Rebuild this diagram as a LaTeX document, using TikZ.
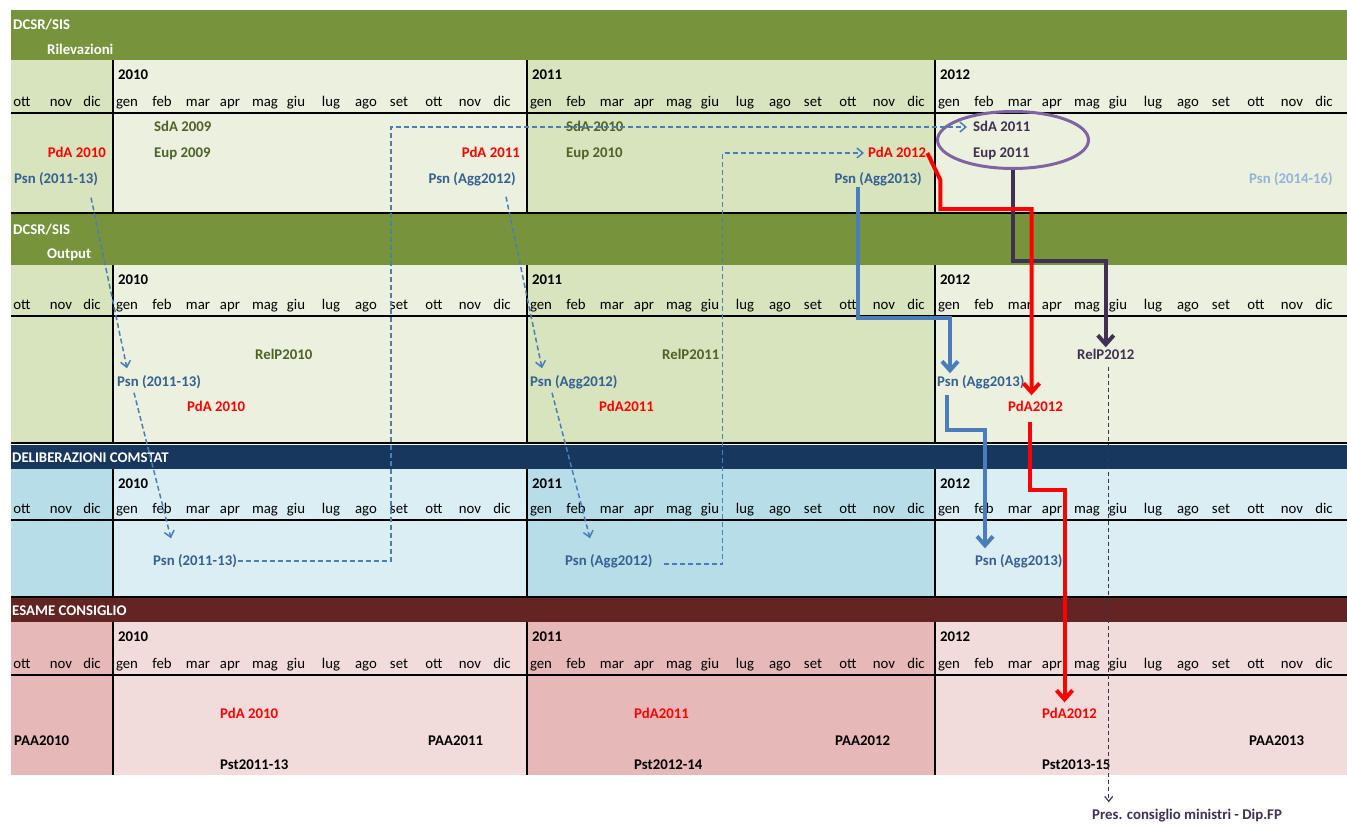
\documentclass[tikz,border=0pt]{standalone}
\usepackage{fontspec}
\setmainfont{Carlito}
\usetikzlibrary{arrows.meta,shapes.geometric}

\definecolor{hdgreen}{HTML}{77933C}
\definecolor{ltgreen}{HTML}{EBF1DE}
\definecolor{dkgreen}{HTML}{D7E4BD}
\definecolor{hdblue}{HTML}{17375E}
\definecolor{ltblue}{HTML}{DBEEF4}
\definecolor{dkblue}{HTML}{B7DEE8}
\definecolor{hdred}{HTML}{632523}
\definecolor{ltred}{HTML}{F2DCDB}
\definecolor{dkred}{HTML}{E6B9B8}
\definecolor{darkolive}{HTML}{4F6228}
\definecolor{psnblue}{HTML}{376092}
\definecolor{arrblue}{HTML}{4A7EBB}
\definecolor{paleblue}{HTML}{95B3D7}
\definecolor{plum}{HTML}{403152}
\definecolor{lilac}{HTML}{8064A2}

\begin{document}
\begin{tikzpicture}[x=1pt,y=-1pt,
  lbl/.style={font=\bfseries\fontsize{14.8}{17}\selectfont, inner sep=1pt, text height=11pt, text depth=2pt},
  month/.style={font=\fontsize{14.8}{17}\selectfont, inner sep=1pt, text height=11pt, text depth=2pt},
  head/.style={lbl, white, anchor=west},
  rule/.style={line width=2.5pt},
  vrule/.style={line width=1.8pt},
  oval/.style={ellipse, draw=lilac, line width=3pt, minimum width=151pt, minimum height=57pt, inner sep=0pt},
  dasharrow/.style={arrblue, line width=1.5pt, dash pattern=on 5pt off 3pt, -{Straight Barb[length=6pt,width=10pt]}},
  plumdash/.style={plum, line width=1.2pt, dash pattern=on 4pt off 3pt, -{Straight Barb[length=5pt,width=8pt]}},
  thickarrow/.style={line width=4pt, -{Straight Barb[length=9pt,width=16pt]}}]

\useasboundingbox (0,0) rectangle (1347,825);

\foreach \s/\ytop/\yhead/\yline/\yend/\hc/\lc/\dc in {
    r/10/60/113/213/hdgreen/ltgreen/dkgreen,
    o/214/265/316/443/hdgreen/ltgreen/dkgreen,
    d/445/469/520/597/hdblue/ltblue/dkblue,
    e/598/622/675/775/hdred/ltred/dkred} {
  \fill[\hc] (11,\ytop) rectangle (1347,\yhead);
  \fill[\dc] (11,\yhead) rectangle (113,\yend);
  \fill[\lc] (113,\yhead) rectangle (527,\yend);
  \fill[\dc] (527,\yhead) rectangle (935,\yend);
  \fill[\lc] (935,\yhead) rectangle (1347,\yend);
  \draw[rule] (11,\yline) -- (1347,\yline);
  \foreach \xv in {113,527,935}
    \draw[vrule] (\xv,\yhead) -- (\xv,\yend);
  \foreach \m/\px in {ott/22,nov/61,dic/92}
    \node[month] (\s-prev-\m) at (\px,\yline-11) {\m};
  \foreach \ys/\yr in {113/2010,527/2011,935/2012} {
    \node[lbl, anchor=west] (\s-\yr) at (\ys+4,\yhead+15) {\yr};
    \foreach \m/\dx [count=\i] in {gen/14,feb/49,mar/85,apr/117,mag/152,giu/183,
        lug/218,ago/253,set/286,ott/321,nov/357,dic/389}
      \node[month] (\s-\yr-\i) at (\ys+\dx,\yline-11) {\m};
  }
}
\foreach \yv in {213,443,597}
  \draw[rule] (11,\yv) -- (1347,\yv);

% section titles
\node[head] (r-title) at (12,25) {DCSR/SIS};
\node[head] (r-sub) at (46,50) {Rilevazioni};
\node[head] (o-title) at (12,230) {DCSR/SIS};
\node[head] (o-sub) at (46,254) {Output};
\node[head] (d-title) at (11,458) {DELIBERAZIONI COMSTAT};
\node[head] (e-title) at (11,611) {ESAME CONSIGLIO};

% rilevazioni
\node[oval] (r-oval) at (1013,140) {};
\node[lbl, darkolive, anchor=west] (r-sda09) at (153,127) {SdA 2009};
\node[lbl, darkolive, anchor=west] (r-eup09) at (153,153) {Eup 2009};
\node[lbl, red, anchor=east] (r-pda10) at (107,153) {PdA 2010};
\node[lbl, psnblue, anchor=west] (r-psn10) at (13,179) {Psn (2011-13)};
\node[lbl, darkolive, anchor=west] (r-sda10) at (565,127) {SdA 2010};
\node[lbl, darkolive, anchor=west] (r-eup10) at (565,153) {Eup 2010};
\node[lbl, red, anchor=east] (r-pda11) at (521,153) {PdA 2011};
\node[lbl, psnblue, anchor=east] (r-psn11) at (517,179) {Psn (Agg2012)};
\node[lbl, red, anchor=west] (r-pda12) at (867,153) {PdA 2012};
\node[lbl, psnblue, anchor=east] (r-psn12) at (923,179) {Psn (Agg2013)};
\node[lbl, plum, anchor=west] (r-sda11) at (972,127) {SdA 2011};
\node[lbl, plum, anchor=west] (r-eup11) at (972,153) {Eup 2011};
\node[lbl, paleblue, anchor=east] (r-psn14) at (1334,179) {Psn (2014-16)};

% output
\node[lbl, darkolive, anchor=west] (o-rel10) at (254,355) {RelP2010};
\node[lbl, psnblue, anchor=west] (o-psn10) at (116,382) {Psn (2011-13)};
\node[lbl, red, anchor=west] (o-pda10) at (186,407) {PdA 2010};
\node[lbl, darkolive, anchor=west] (o-rel11) at (661,355) {RelP2011};
\node[lbl, psnblue, anchor=west] (o-psn11) at (529,382) {Psn (Agg2012)};
\node[lbl, red, anchor=west] (o-pda11) at (598,407) {PdA2011};
\node[lbl, plum, anchor=west] (o-rel12) at (1076,355) {RelP2012};
\node[lbl, psnblue, anchor=west] (o-psn12) at (936,382) {Psn (Agg2013)};
\node[lbl, red, anchor=west] (o-pda12) at (1007,407) {PdA2012};

% deliberazioni
\node[lbl, psnblue, anchor=west] (d-psn10) at (152,561) {Psn (2011-13)};
\node[lbl, psnblue, anchor=west] (d-psn11) at (564,561) {Psn (Agg2012)};
\node[lbl, psnblue, anchor=west] (d-psn12) at (974,561) {Psn (Agg2013)};

% esame consiglio
\node[lbl, red, anchor=west] (e-pda10) at (219,714) {PdA 2010};
\node[lbl, anchor=west] (e-paa10) at (13,741) {PAA2010};
\node[lbl, anchor=west] (e-paa11) at (427,741) {PAA2011};
\node[lbl, anchor=west] (e-pst10) at (219,765) {Pst2011-13};
\node[lbl, red, anchor=west] (e-pda11) at (633,714) {PdA2011};
\node[lbl, anchor=west] (e-paa12) at (834,741) {PAA2012};
\node[lbl, anchor=west] (e-pst11) at (633,765) {Pst2012-14};
\node[lbl, red, anchor=west] (e-pda12) at (1041,714) {PdA2012};
\node[lbl, anchor=west] (e-paa13) at (1248,741) {PAA2013};
\node[lbl, anchor=west] (e-pst12) at (1041,765) {Pst2013-15};
\node[lbl, plum, anchor=west] (pres) at (1091,815) {Pres. consiglio ministri - Dip.FP};

% flows
\draw[dasharrow] ([xshift=-8pt,yshift=-11pt]r-psn10.south east) -- ([xshift=11pt,yshift=6pt]o-psn10.north west);
\draw[dasharrow] ([xshift=18pt,yshift=-3pt]o-psn10.south west) -- ([xshift=19pt,yshift=15pt]d-psn10.north west);
\draw[dasharrow] (d-psn10.east) -- ++(153,0) |- ([xshift=-5pt]r-sda11.west);
\draw[dasharrow] ([xshift=-11pt,yshift=-10pt]r-psn11.south east) -- ([xshift=13pt,yshift=6pt]o-psn11.north west);
\draw[dasharrow] ([xshift=23pt,yshift=-3pt]o-psn11.south west) -- ([xshift=26pt,yshift=15pt]d-psn11.north west);
\draw[dasharrow] ([xshift=10pt,yshift=-3pt]d-psn11.east) -- ++(59,0) |- ([xshift=-3pt]r-pda12.west);

\draw[thickarrow, arrblue] ([xshift=25pt]r-psn12.south west) -- ++(0,131) -| ([xshift=14pt,yshift=1pt]o-psn12.north west);
\draw[thickarrow, arrblue] ([xshift=11pt,yshift=-5pt]o-psn12.south west) -- ++(0,35) -| ([xshift=11pt,yshift=5pt]d-psn12.north west);
\draw[thickarrow, plum] (r-oval.south) -- ++(0,91) -| (o-rel12.north);
\draw[thickarrow, red] (r-pda12.east) -- ++(13,27) -- ++(0,29) -| ([xshift=-4pt,yshift=4pt]o-pda12.north);
\draw[thickarrow, red] ([xshift=-6pt,yshift=-7pt]o-pda12.south) -- ++(0,68) -| ([xshift=-5pt,yshift=4pt]e-pda12.north);

\coordinate (relfoot) at ([xshift=3pt,yshift=-4pt]o-rel12.south);
\coordinate (presfoot) at ([yshift=5pt]pres.north);
\draw[plumdash] (relfoot) -- (relfoot |- presfoot);
\end{tikzpicture}
\end{document}
